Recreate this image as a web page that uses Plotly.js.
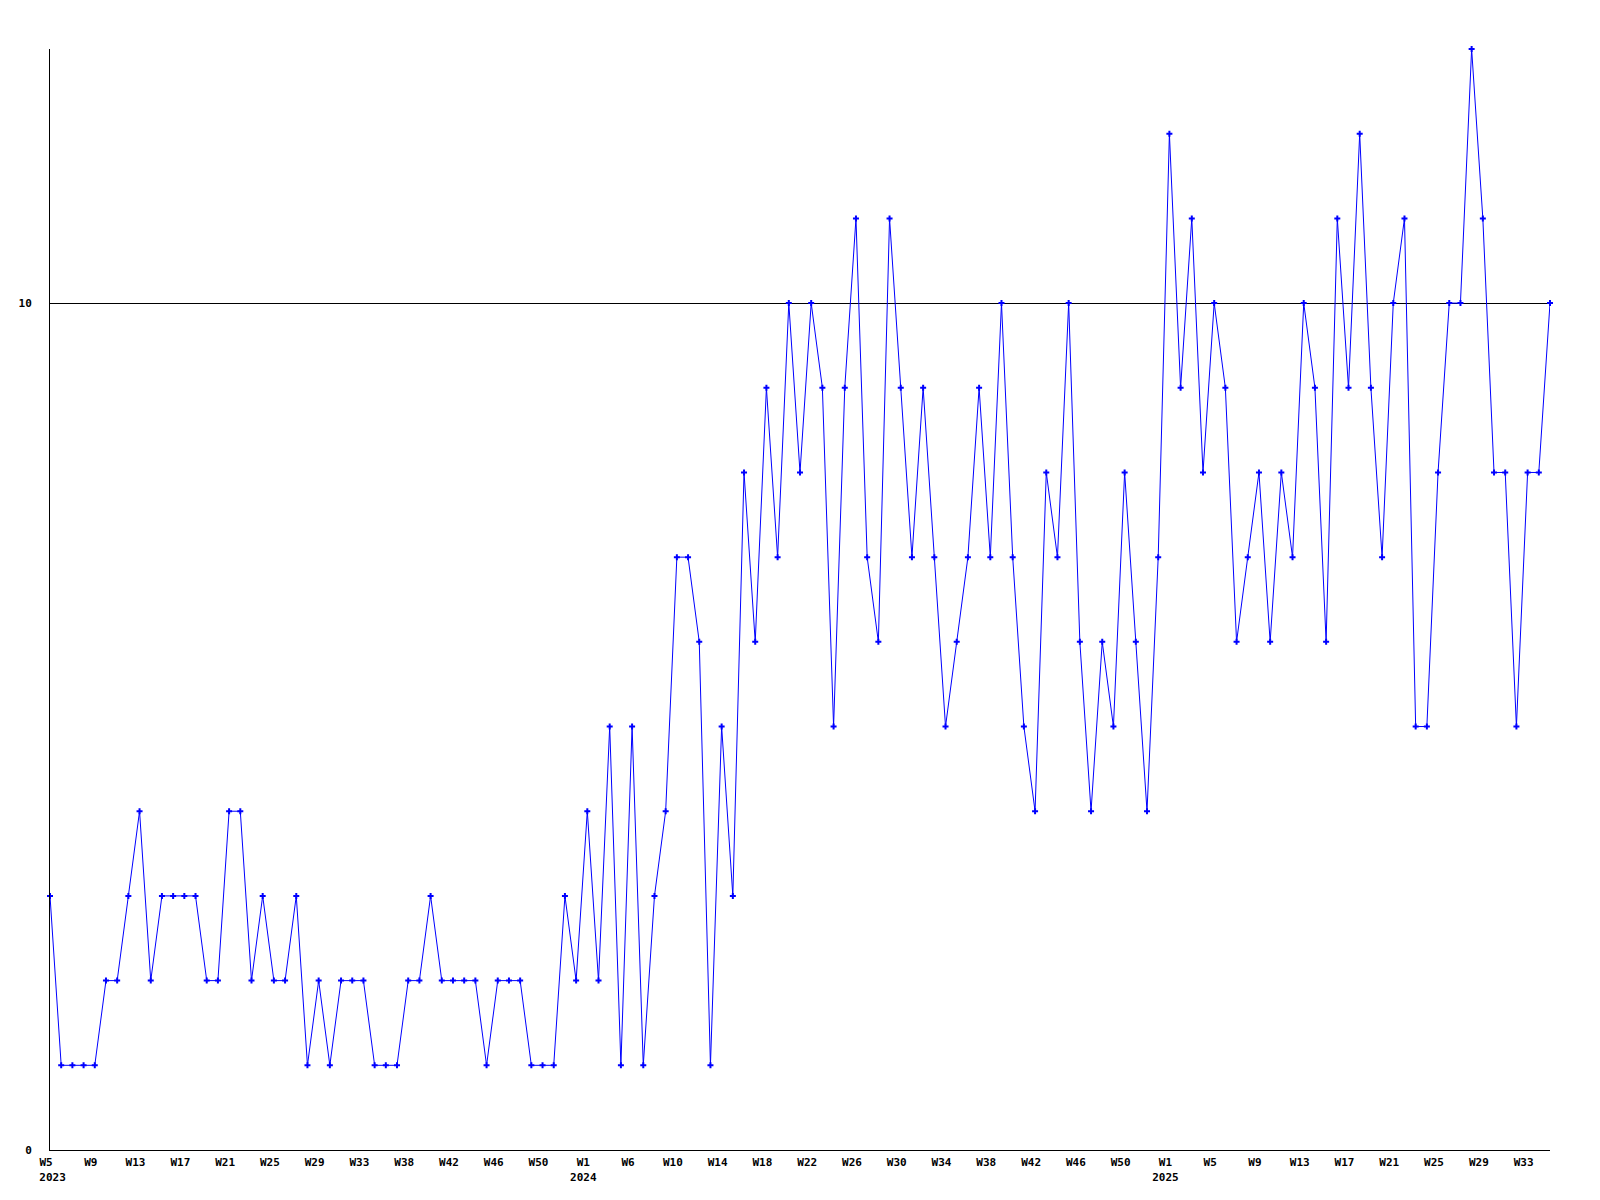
<!DOCTYPE html>
<html>
<head>
<meta charset="utf-8">
<script src="https://cdn.plot.ly/plotly-3.0.1.min.js"></script>
<style>
html,body{margin:0;padding:0;background:#fff;}
#chart{width:1600px;height:1200px;}
</style>
</head>
<body>
<div id="chart"></div>
<script>
// Weekly counts, 2023 W5 .. 2025 W35
const weekIndex = [];
const values = [
  3,1,1,1,1,2,2,3,4,2,3,3,3,3,2,2,4,4,2,3,2,2,3,1,2,1,2,2,2,1,1,1,2,2,3,2,2,2,2,1,2,2,2,1,1,1,3,2,
  4,2,5,1,5,1,3,4,7,7,6,1,5,3,8,6,9,7,10,8,10,9,5,9,11,7,6,11,9,7,9,7,5,6,7,9,7,10,7,5,4,8,7,10,6,4,6,5,8,6,4,7,
  12,9,11,8,10,9,6,7,8,6,8,7,10,9,6,11,9,12,9,7,10,11,5,5,8,10,10,13,11,8,8,5,8,8,10
];
for (let i = 0; i < values.length; i++) weekIndex.push(i);

const tickWeeks = [0,4,8,12,16,20,24,28,32,36,40,44,48,52,56,60,64,68,72,76,80,84,88,92,96,100,104,108,112,116,120,124,128,132];
const tickLabels = [
  "W5<br>\u00A0\u00A02023","W9","W13","W17","W21","W25","W29","W33","W38","W42","W46","W50",
  "W1<br>2024","W6","W10","W14","W18","W22","W26","W30","W34","W38","W42","W46","W50",
  "W1<br>2025","W5","W9","W13","W17","W21","W25","W29","W33"
];
const yTicks = [0, 10];

const monoFont = {family: "DejaVu Sans Mono, Liberation Mono, monospace", size: 11, color: "#000", weight: "bold"};

const trace = {
  x: weekIndex,
  y: values,
  type: "scatter",
  mode: "lines+markers",
  line: {color: "#0000ff", width: 1},
  marker: {color: "#0000ff", symbol: "cross", size: 5, line: {width: 0}},
  hoverinfo: "skip",
  cliponaxis: false
};

const layout = {
  width: 1600,
  height: 1200,
  margin: {l: 50, r: 50, t: 49, b: 50},
  paper_bgcolor: "#fff",
  plot_bgcolor: "#fff",
  showlegend: false,
  xaxis: {
    range: [0, values.length - 1],
    tickmode: "array",
    tickvals: tickWeeks,
    ticktext: tickLabels,
    showgrid: false,
    zeroline: false,
    showline: true,
    linecolor: "#000",
    linewidth: 1,
    ticks: "",
    tickfont: monoFont,
    tickangle: 0,
    ticklabelshift: -4,
    ticklabelstandoff: 2,
    fixedrange: true
  },
  yaxis: {
    range: [0, 13],
    tickmode: "array",
    tickvals: yTicks,
    ticktext: yTicks.map(String),
    showgrid: true,
    gridcolor: "#000",
    gridwidth: 1,
    zeroline: false,
    showline: true,
    linecolor: "#000",
    linewidth: 1,
    ticks: "",
    tickfont: monoFont,
    ticklabelstandoff: 15,
    fixedrange: true
  }
};

Plotly.newPlot("chart", [trace], layout, {staticPlot: true, displayModeBar: false});
</script>
</body>
</html>
